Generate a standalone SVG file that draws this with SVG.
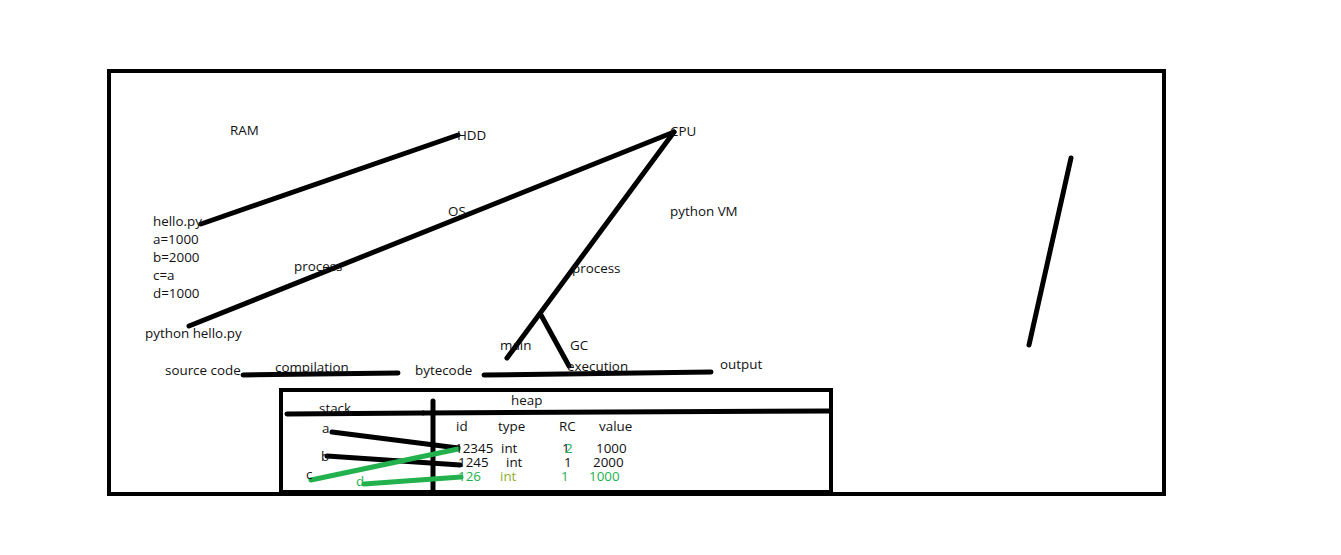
<svg xmlns="http://www.w3.org/2000/svg" width="1341" height="555" viewBox="0 0 1341 555">
<style>
text{font-family:"Open Sans","Noto Sans","DejaVu Sans",sans-serif;font-size:13.4px;fill:#111}
.g{fill:#22B14C}
.o{fill:#8DB02A}
.ln{stroke:#000;stroke-width:5;stroke-linecap:round;fill:none}
.gl{stroke:#22B14C;stroke-width:5;stroke-linecap:round;fill:none}
.box{stroke:#000;stroke-width:4;fill:none}
</style>
<rect width="1341" height="555" fill="#fff"/>
<g id="frame"><rect class="box" x="109" y="71" width="1055" height="423"/></g>
<g id="heapbox">
<rect class="box" x="281" y="390" width="550" height="102"/>
<line class="ln" x1="287" y1="414" x2="423" y2="413"/>
<line class="ln" x1="423" y1="413" x2="829" y2="411"/>
<line class="ln" x1="433" y1="401" x2="433" y2="491"/>
</g>
<g id="connectors">
<line class="ln" x1="201" y1="224" x2="458" y2="135"/>
<line class="ln" x1="189" y1="326" x2="674" y2="132"/>
<line class="ln" x1="674" y1="132" x2="507" y2="358"/>
<line class="ln" x1="541" y1="315" x2="569" y2="366"/>
<line class="ln" x1="243" y1="375" x2="398" y2="373"/>
<line class="ln" x1="484" y1="375" x2="711" y2="372"/>
<line class="ln" x1="1071" y1="158" x2="1029" y2="345"/>
<line class="ln" x1="332" y1="432" x2="458" y2="448"/>
<line class="ln" x1="327" y1="456" x2="460" y2="465"/>
<line class="gl" x1="311" y1="480" x2="458" y2="449"/>
<line class="gl" x1="364" y1="484" x2="461" y2="477"/>
</g>
<g id="labels">
<text x="230" y="135">RAM</text>
<text x="457" y="140">HDD</text>
<text x="670" y="136">CPU</text>
<text x="448" y="216">OS</text>
<text x="670" y="216">python VM</text>
<text x="153" y="226">hello.py</text>
<text x="153" y="244">a=1000</text>
<text x="153" y="262">b=2000</text>
<text x="153" y="280">c=a</text>
<text x="153" y="298">d=1000</text>
<text x="294" y="271">process</text>
<text x="572" y="273">process</text>
<text x="145" y="338">python hello.py</text>
<text x="500" y="350">main</text>
<text x="570" y="350">GC</text>
<text x="165" y="375">source code</text>
<text x="275" y="372">compilation</text>
<text x="415" y="375">bytecode</text>
<text x="567" y="371">execution</text>
<text x="720" y="369">output</text>
</g>
<g id="memory">
<text x="511" y="405">heap</text>
<text x="319" y="413">stack</text>
<text x="322" y="433">a</text>
<text x="321" y="461">b</text>
<text x="306" y="479">c</text>
<text class="g" x="356" y="486">d</text>
<text x="456" y="431">id</text>
<text x="498" y="431">type</text>
<text x="559" y="431">RC</text>
<text x="599" y="431">value</text>
<text x="455" y="453">12345</text>
<text x="501" y="453">int</text>
<text x="562" y="453">1</text>
<text class="g" x="565" y="453">2</text>
<text x="596" y="453">1000</text>
<text x="458" y="467">1245</text>
<text x="506" y="467">int</text>
<text x="564" y="467">1</text>
<text x="593" y="467">2000</text>
<text class="g" x="458" y="481">126</text>
<text class="o" x="500" y="481">int</text>
<text class="g" x="561" y="481">1</text>
<text class="g" x="589" y="481">1000</text>
</g>
</svg>
